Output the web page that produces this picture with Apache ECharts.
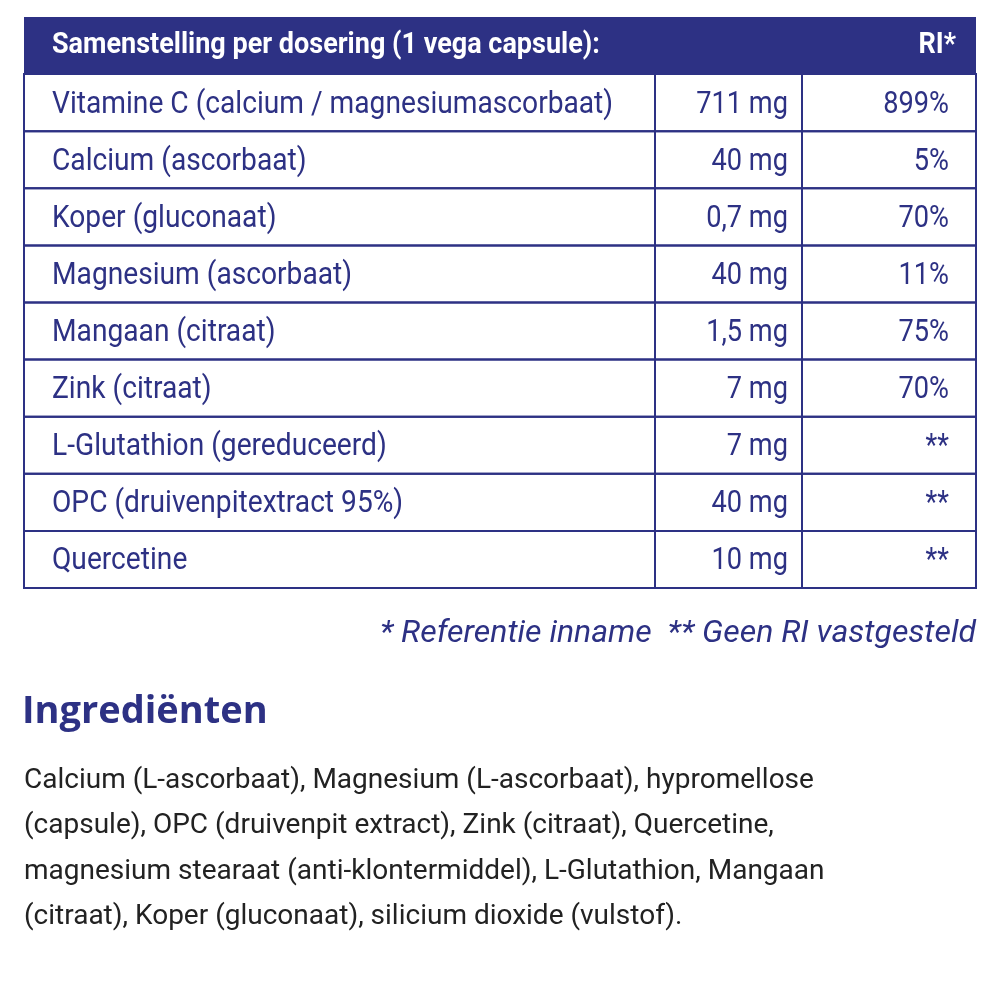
<!DOCTYPE html><html><head><meta charset="utf-8">
<script src="https://cdn.jsdelivr.net/npm/echarts@6/dist/echarts.min.js"></script>
<style>html,body{margin:0;background:#fff}#c{width:1000px;height:1000px}</style></head><body><div id="c"></div>
<script>
const headerTitle = 'Samenstelling per dosering (1 vega capsule):';
const headerRI = 'RI*';
const labels = ['Vitamine C (calcium / magnesiumascorbaat)','Calcium (ascorbaat)','Koper (gluconaat)','Magnesium (ascorbaat)','Mangaan (citraat)','Zink (citraat)','L-Glutathion (gereduceerd)','OPC (druivenpitextract 95%)','Quercetine'];
const amounts = ['711 mg','40 mg','0,7 mg','40 mg','1,5 mg','7 mg','7 mg','40 mg','10 mg'];
const ri = ['899%','5%','70%','11%','75%','70%','**','**','**'];
const footnote = '* Referentie inname  ** Geen RI vastgesteld';
const ingTitle = 'Ingrediënten';
const ingLines = ['Calcium (L-ascorbaat), Magnesium (L-ascorbaat), hypromellose','(capsule), OPC (druivenpit extract), Zink (citraat), Quercetine,','magnesium stearaat (anti-klontermiddel), L-Glutathion, Mangaan','(citraat), Koper (gluconaat), silicium dioxide (vulstof).'];

const navy='#2d3184', cond='"Roboto",sans-serif';
const cats=['h'].concat(labels.map((_, i)=>'r'+i));
const data=cats.map((c,i)=>[i]);
function t(text,x,y,align,font,fill,sx){
  return {type:'text',scaleX:sx,originX:x,originY:y,style:{text,x,y,align,verticalAlign:'middle',fill,font}};
}
const chart=echarts.init(document.getElementById('c'));
chart.setOption({
 animation:false,
 grid:{left:24,right:24,top:17,bottom:412},
 xAxis:{type:'value',min:0,max:952,show:false},
 yAxis:{type:'category',data:cats,inverse:true,show:false},
 series:[{type:'custom',data:data,encode:{x:-1,y:0},renderItem(params,api){
   const i=api.value(0);
   const p0=api.coord([0,i]), p1=api.coord([952,i]);
   const h=api.size([0,1])[1];
   const x0=p0[0], x1=p1[0], yc=p0[1], yt=yc-h/2;
   const c1=api.coord([631,i])[0], c2=api.coord([778,i])[0];
   if(i===0){
     return {type:'group',children:[
      {type:'rect',shape:{x:x0,y:yt,width:x1-x0,height:h},style:{fill:navy}},
      t(headerTitle,x0+28,yc,'left','bold 30px '+cond,'#fff',0.9),
      t(headerRI,x1-20,yc,'right','bold 30px '+cond,'#fff',0.9)
     ]};
   }
   const k=i-1;
   return {type:'group',children:[
    {type:'rect',shape:{x:x0,y:yt,width:x1-x0,height:h},style:{fill:'none',stroke:navy,lineWidth:2}},
    {type:'line',shape:{x1:c1,y1:yt,x2:c1,y2:yt+h},style:{stroke:navy,lineWidth:2}},
    {type:'line',shape:{x1:c2,y1:yt,x2:c2,y2:yt+h},style:{stroke:navy,lineWidth:2}},
    t(labels[k],x0+28,yc+2,'left','32px '+cond,navy,0.88),
    t(amounts[k],c2-14,yc+2,'right','32px '+cond,navy,0.85),
    t(ri[k],x1-27,yc+2,'right','32px '+cond,navy,0.85)
   ]};
 }}],
 graphic:[
  {type:'text',right:24,top:618,style:{text:footnote,fill:navy,font:'italic 32px '+cond}},
  {type:'text',left:22,top:693,style:{text:ingTitle,fill:navy,font:'bold 38px "Open Sans",sans-serif'}},
  {type:'text',left:24,top:758,style:{text:ingLines.join('\n'),lineHeight:45.5,fill:'#222',font:'28px "Roboto",sans-serif'}}
 ]
});
</script></body></html>
